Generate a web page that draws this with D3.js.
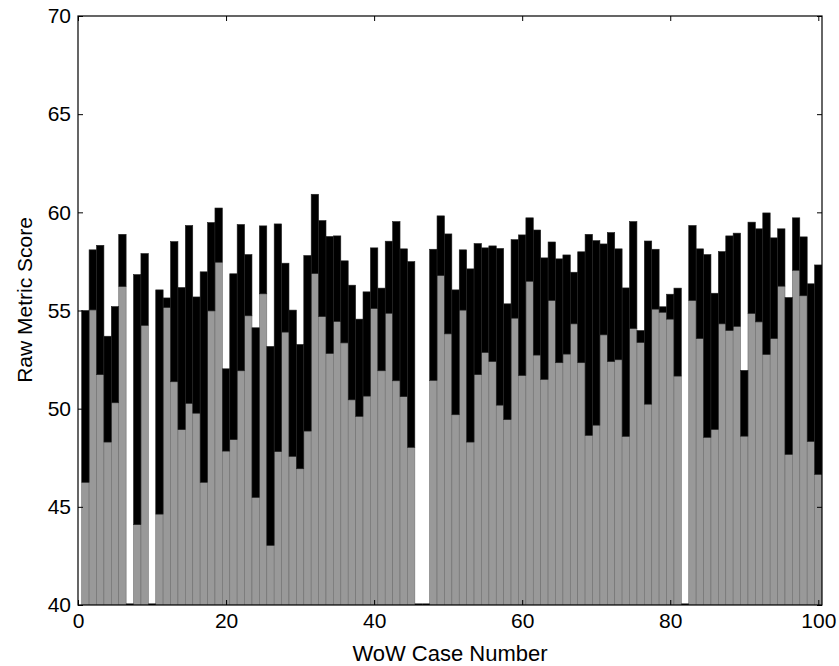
<!DOCTYPE html>
<html>
<head>
<meta charset="utf-8">
<script src="https://cdn.jsdelivr.net/npm/d3@7"></script>
<style>
  body { margin: 0; background: #fff; }
  text { font-family: "Liberation Sans", Arial, sans-serif; }
</style>
</head>
<body>
<script>
// Case numbers 1..100
const cases = d3.range(1, 101);

// Top of the gray (lower) part of each stacked bar; null = no data
const grayTop = [
  46.25, 55.03, 51.73, 48.30, 50.30, 56.22, null, 44.09, 54.24, null,
  44.63, 55.15, 51.37, 48.93, 50.27, 49.77, 46.25, 54.98, 57.46, 47.84,
  48.42, 51.93, 54.73, 45.48, 55.85, 43.04, 47.81, 53.90, 47.57, 46.94,
  48.86, 56.88, 54.69, 52.81, 54.44, 53.35, 50.45, 49.61, 50.64, 55.10,
  51.93, 54.86, 51.42, 50.61, 48.03, null, null, 51.44, 56.78, 53.81,
  49.69, 55.02, 48.30, 51.73, 52.86, 52.40, 50.18, 49.44, 54.61, 51.69,
  56.49, 52.73, 51.49, 55.51, 52.34, 52.78, 54.32, 52.34, 48.64, 49.16,
  53.76, 52.40, 52.49, 48.59, 54.08, 53.37, 50.23, 55.07, 54.91, 54.56,
  51.66, null, 55.51, 53.57, 48.54, 48.94, 54.32, 53.98, 54.19, 48.60,
  54.85, 54.42, 52.76, 53.57, 56.24, 47.67, 57.05, 55.75, 48.33, 46.65
];

// Top of the black (upper) part of each stacked bar
const blackTop = [
  55.00, 58.09, 58.32, 53.69, 55.20, 58.88, null, 56.83, 57.90, null,
  56.05, 55.64, 58.51, 56.17, 59.33, 55.69, 56.97, 59.48, 60.22, 52.03,
  56.87, 59.38, 57.85, 54.12, 59.31, 53.17, 59.41, 57.41, 55.02, 53.27,
  57.80, 60.92, 59.58, 58.77, 58.80, 57.53, 56.29, 54.56, 55.95, 58.19,
  56.14, 58.53, 59.53, 58.14, 57.49, null, null, 58.12, 59.82, 58.90,
  56.05, 58.09, 57.12, 58.41, 58.19, 58.29, 58.16, 55.34, 58.61, 58.85,
  59.72, 59.10, 57.68, 58.49, 57.63, 57.83, 56.95, 57.99, 58.88, 58.56,
  58.39, 58.97, 58.14, 56.15, 59.53, 53.98, 58.54, 58.12, 55.19, 55.83,
  56.14, null, 59.33, 58.14, 57.85, 55.88, 58.00, 58.80, 58.94, 51.95,
  59.50, 59.16, 59.97, 58.70, 59.16, 55.66, 59.72, 58.75, 56.36, 57.32
];

const xTicks = [0, 20, 40, 60, 80, 100];
const yTicks = [40, 45, 50, 55, 60, 65, 70];

const margin = { top: 16, right: 17, bottom: 61, left: 78 };
const width = 839 - margin.left - margin.right;
const height = 666 - margin.top - margin.bottom;

const svg = d3.select("body").append("svg")
    .attr("width", 839)
    .attr("height", 666)
  .append("g")
    .attr("transform", `translate(${margin.left},${margin.top})`);

const x = d3.scaleLinear().domain([0, 100.5]).range([0, width]);
const y = d3.scaleLinear().domain([40, 70]).range([height, 0]);

svg.append("clipPath").attr("id", "plot-clip")
  .append("rect").attr("width", width).attr("height", height);

const data = cases.map((c, i) => ({ c, g: grayTop[i], b: blackTop[i] }));

const bars = svg.append("g").attr("clip-path", "url(#plot-clip)");

// gray lower part
bars.selectAll(".gray")
  .data(data.filter(d => d.g != null))
  .enter().append("rect")
    .attr("x", d => x(d.c - 0.5))
    .attr("width", x(1) - x(0))
    .attr("y", d => y(d.g))
    .attr("height", d => y(40) - y(d.g))
    .attr("fill", "#999999")
    .attr("stroke", "#6e6e6e")
    .attr("stroke-width", 0.6);

// black upper part
bars.selectAll(".black")
  .data(data.filter(d => d.b != null))
  .enter().append("rect")
    .attr("x", d => x(d.c - 0.5))
    .attr("width", x(1) - x(0))
    .attr("y", d => y(d.b))
    .attr("height", d => y(d.g) - y(d.b))
    .attr("fill", "#000")
    .attr("stroke", "#222")
    .attr("stroke-width", 0.6);

// empty cases show as a flat line on the baseline
bars.selectAll(".empty")
  .data(data.filter(d => d.g == null))
  .enter().append("line")
    .attr("x1", d => x(d.c - 0.5))
    .attr("x2", d => x(d.c + 0.5))
    .attr("y1", height - 0.5)
    .attr("y2", height - 0.5)
    .attr("stroke", "#000")
    .attr("stroke-width", 2);

// axes, MATLAB style: ticks pointing inward, box around
const tickLen = 5;
svg.append("g")
    .attr("transform", `translate(0,${height})`)
    .call(d3.axisBottom(x).tickValues(xTicks).tickSizeInner(-tickLen).tickSizeOuter(0).tickPadding(8))
    .call(g => g.select(".domain").remove());

svg.append("g")
    .call(d3.axisTop(x).tickValues(xTicks).tickSizeInner(-tickLen).tickSizeOuter(0).tickFormat(""))
    .call(g => g.select(".domain").remove());

svg.append("g")
    .call(d3.axisLeft(y).tickValues(yTicks).tickSizeInner(-tickLen).tickSizeOuter(0).tickPadding(7))
    .call(g => g.select(".domain").remove());

svg.append("g")
    .attr("transform", `translate(${width},0)`)
    .call(d3.axisRight(y).tickValues(yTicks).tickSizeInner(-tickLen).tickSizeOuter(0).tickFormat(""))
    .call(g => g.select(".domain").remove());

svg.selectAll(".tick text")
    .attr("font-size", 21)
    .attr("fill", "#000")
    .attr("font-family", "Liberation Sans, Arial, sans-serif");
svg.selectAll(".tick line").attr("stroke", "#000");

svg.append("rect")
    .attr("width", width)
    .attr("height", height)
    .attr("fill", "none")
    .attr("stroke", "#000")
    .attr("stroke-width", 1.2);

svg.append("text")
    .attr("x", width / 2)
    .attr("y", height + 56)
    .attr("text-anchor", "middle")
    .attr("font-size", 22)
    .text("WoW Case Number");

svg.append("text")
    .attr("transform", "rotate(-90)")
    .attr("x", -(300 - margin.top))
    .attr("y", -46)
    .attr("text-anchor", "middle")
    .attr("font-size", 21)
    .text("Raw Metric Score");
</script>
</body>
</html>
